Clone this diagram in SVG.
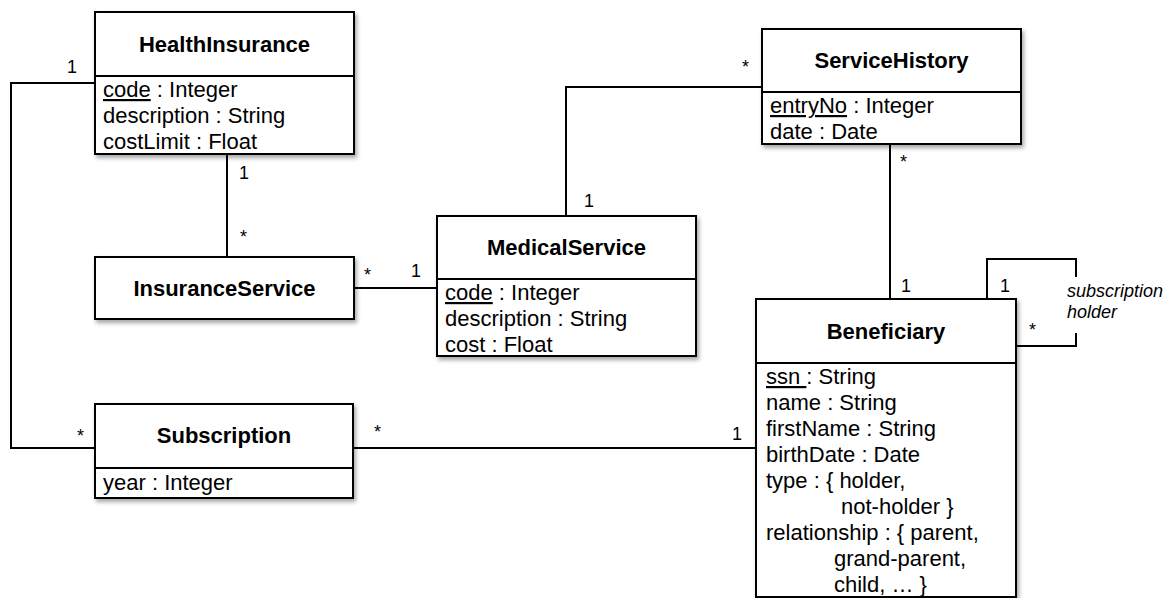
<svg xmlns="http://www.w3.org/2000/svg" width="1171" height="598" viewBox="0 0 1171 598">
<style>
.box{fill:#fff;stroke:#000;stroke-width:2;filter:url(#sh)}
.div{stroke:#000;stroke-width:2;fill:none}
.title{font-family:"Liberation Sans",Arial,sans-serif;font-size:22px;font-weight:bold;text-anchor:middle;fill:#000}
.attr{font-family:"Liberation Sans",Arial,sans-serif;font-size:22px;fill:#000}
.lbl{font-family:"Liberation Sans",Arial,sans-serif;font-size:18px;fill:#000}
.role{font-family:"Liberation Sans",Arial,sans-serif;font-size:18px;font-style:italic;fill:#000}
.u{text-decoration:underline}
.conn{stroke:#000;stroke-width:2;fill:none}
</style>
<defs>
<filter id="sh" x="-10%" y="-10%" width="125%" height="130%">
<feDropShadow dx="2" dy="3" stdDeviation="2" flood-color="#000" flood-opacity="0.35"/>
</filter>
</defs>
<rect width="1171" height="598" fill="#fff"/>
<g id="connectors">
<polyline class="conn" points="95,83 11,83 11,448 95,448"/>
<line class="conn" x1="227" y1="154" x2="227" y2="257"/>
<line class="conn" x1="354" y1="288" x2="437" y2="288"/>
<polyline class="conn" points="566,216 566,87 762,87"/>
<line class="conn" x1="890" y1="144" x2="890" y2="299"/>
<polyline class="conn" points="987,299 987,259 1076,259 1076,277"/>
<polyline class="conn" points="1076,333 1076,346 1016,346"/>
<line class="conn" x1="353" y1="448" x2="756" y2="448"/>
<text class="lbl" x="67" y="73">1</text>
<text class="lbl" x="239" y="179">1</text>
<text class="lbl" x="240" y="243">*</text>
<text class="lbl" x="364" y="281">*</text>
<text class="lbl" x="411" y="277">1</text>
<text class="lbl" x="584" y="207">1</text>
<text class="lbl" x="742" y="73">*</text>
<text class="lbl" x="900" y="168">*</text>
<text class="lbl" x="901" y="292">1</text>
<text class="lbl" x="1000" y="292">1</text>
<text class="lbl" x="1029" y="336">*</text>
<text class="role" x="1067" y="297">subscription</text>
<text class="role" x="1067" y="318">holder</text>
<text class="lbl" x="77" y="442">*</text>
<text class="lbl" x="374" y="438">*</text>
<text class="lbl" x="732" y="440">1</text>
</g>
<g id="HealthInsurance">
<rect class="box" x="95" y="12" width="259" height="142"/>
<line class="div" x1="95" y1="76" x2="354" y2="76"/>
<text class="title" x="224.5" y="52">HealthInsurance</text>
<text class="attr" x="103" y="97"><tspan class="u">code</tspan> : Integer</text>
<text class="attr" x="103" y="123">description : String</text>
<text class="attr" x="103" y="149">costLimit : Float</text>
</g>
<g id="InsuranceService">
<rect class="box" x="95" y="257" width="259" height="62"/>
<text class="title" x="224.5" y="296">InsuranceService</text>
</g>
<g id="MedicalService">
<rect class="box" x="437" y="216" width="259" height="140"/>
<line class="div" x1="437" y1="279" x2="696" y2="279"/>
<text class="title" x="566.5" y="255">MedicalService</text>
<text class="attr" x="445" y="300"><tspan class="u">code</tspan> : Integer</text>
<text class="attr" x="445" y="326">description : String</text>
<text class="attr" x="445" y="352">cost : Float</text>
</g>
<g id="ServiceHistory">
<rect class="box" x="762" y="29" width="259" height="115"/>
<line class="div" x1="762" y1="92" x2="1021" y2="92"/>
<text class="title" x="891.5" y="68">ServiceHistory</text>
<text class="attr" x="770" y="113"><tspan class="u">entryNo</tspan> : Integer</text>
<text class="attr" x="770" y="139">date : Date</text>
</g>
<g id="Beneficiary">
<rect class="box" x="756" y="299" width="260" height="298"/>
<line class="div" x1="756" y1="363" x2="1016" y2="363"/>
<text class="title" x="886" y="339">Beneficiary</text>
<text class="attr" x="766" y="384"><tspan class="u">ssn </tspan>: String</text>
<text class="attr" x="766" y="410">name : String</text>
<text class="attr" x="766" y="436">firstName : String</text>
<text class="attr" x="766" y="462">birthDate : Date</text>
<text class="attr" x="766" y="488">type : { holder,</text>
<text class="attr" x="841" y="514">not-holder }</text>
<text class="attr" x="766" y="540">relationship : { parent,</text>
<text class="attr" x="834" y="566">grand-parent,</text>
<text class="attr" x="834" y="592">child, … }</text>
</g>
<g id="Subscription">
<rect class="box" x="95" y="404" width="258" height="94"/>
<line class="div" x1="95" y1="468" x2="353" y2="468"/>
<text class="title" x="224" y="443">Subscription</text>
<text class="attr" x="103" y="490">year : Integer</text>
</g>
</svg>
